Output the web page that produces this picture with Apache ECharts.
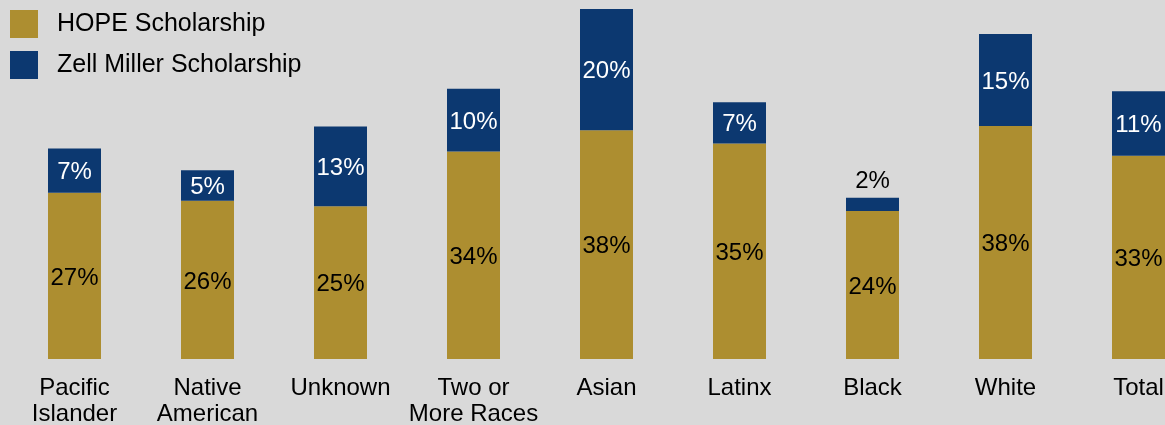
<!DOCTYPE html>
<html>
<head>
<meta charset="utf-8">
<script src="https://cdn.jsdelivr.net/npm/echarts@6/dist/echarts.min.js"></script>
<style>
html,body{margin:0;padding:0;background:#d9d9d9;}
#c{width:1165px;height:425px;}
</style>
</head>
<body>
<div id="c"></div>
<script>
var categories = ['Pacific\nIslander', 'Native\nAmerican', 'Unknown', 'Two or\nMore Races', 'Asian', 'Latinx', 'Black', 'White', 'Total'];
var hopeValues = [27.3, 26.0, 25.1, 34.1, 37.6, 35.4, 24.3, 38.3, 33.4];
var zellValues = [7.3, 5.0, 13.1, 10.3, 19.9, 6.8, 2.2, 15.1, 10.6];
var seriesNames = ['HOPE Scholarship', 'Zell Miller Scholarship'];

var FONT = 'Liberation Sans, Arial, sans-serif';
var chart = echarts.init(document.getElementById('c'));

var zellData = zellValues.map(function (v) {
  if (v < 4) {
    return { value: v, label: { position: 'top', color: '#000', distance: 4, offset: [0, 0] } };
  }
  return v;
});

chart.setOption({
  backgroundColor: '#d9d9d9',
  animation: false,
  legend: {
    orient: 'vertical',
    left: 10,
    top: 10,
    padding: 0,
    itemWidth: 28,
    itemHeight: 28,
    itemGap: 13,
    icon: 'rect',
    data: seriesNames,
    textStyle: { fontSize: 25, fontFamily: FONT, color: '#000', padding: [2, 0, 0, 14] }
  },
  grid: { left: 8, right: -40, top: 6, bottom: 66, containLabel: false, outerBoundsMode: 'none' },
  xAxis: {
    type: 'category',
    data: categories,
    axisLine: { show: false },
    axisTick: { show: false },
    axisLabel: {
      interval: 0,
      margin: 16,
      fontSize: 24,
      lineHeight: 26,
      fontFamily: FONT,
      color: '#000',
      verticalAlign: 'top'
    }
  },
  yAxis: {
    type: 'value',
    min: 0,
    max: 58,
    show: false,
    splitLine: { show: false }
  },
  series: [
    {
      name: seriesNames[0],
      type: 'bar',
      stack: 'a',
      barWidth: 53,
      data: hopeValues,
      itemStyle: { color: '#ad8e30' },
      label: {
        show: true,
        position: 'inside',
        offset: [0, 2],
        color: '#000',
        fontSize: 24,
        fontFamily: FONT,
        formatter: function (p) { return Math.round(p.value) + '%'; }
      }
    },
    {
      name: seriesNames[1],
      type: 'bar',
      stack: 'a',
      barWidth: 53,
      data: zellData,
      itemStyle: { color: '#0c3870' },
      label: {
        show: true,
        position: 'inside',
        offset: [0, 2],
        color: '#fff',
        fontSize: 24,
        fontFamily: FONT,
        formatter: function (p) { return Math.round(p.value) + '%'; }
      }
    }
  ]
});
</script>
</body>
</html>
